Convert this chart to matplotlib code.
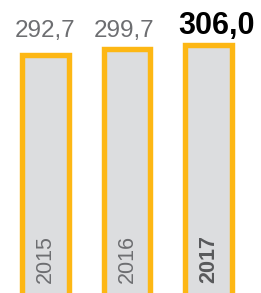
import matplotlib
matplotlib.use("Agg")
import matplotlib.pyplot as plt
from matplotlib.transforms import blended_transform_factory, offset_copy

years = ["2015", "2016", "2017"]
values = [292.7, 299.7, 306.0]
value_labels = ["292,7", "299,7", "306,0"]
highlight = [False, False, True]

fig = plt.figure(figsize=(2.61, 2.93), dpi=100)
ax = fig.add_axes([0, 0, 1, 1])
ax.set_xlim(-0.555, 2.643)
ymin, ymax = -24.4, 365.2
ax.set_ylim(ymin, ymax)
ax.axis("off")

x = list(range(len(years)))
base = ymin - 20
ax.bar(x, [v - base for v in values], bottom=base, width=0.57,
       color="#DCDDDF", edgecolor="#FDB714", linewidth=3.9)

trans = blended_transform_factory(ax.transData, ax.transAxes)
dx_px = [0, -3, 8]
for i, (lab, yr, hl) in enumerate(zip(value_labels, years, highlight)):
    t = offset_copy(trans, fig=fig, x=dx_px[i] * 0.72, y=0, units="points")
    if hl:
        ax.text(x[i], 1 - 34.3 / 293, lab, transform=t, ha="center", va="baseline",
                fontsize=22, fontweight="bold", color="#000000", family="Liberation Sans")
    else:
        ax.text(x[i], 1 - 36.5 / 293, lab, transform=t, ha="center", va="baseline",
                fontsize=17.5, color="#6D6E71", family="Liberation Sans")
    ax.text(x[i], 10 / 293, yr, transform=trans, ha="center", va="bottom", rotation=90,
            fontsize=15.5, fontweight="bold" if hl else "normal",
            color="#58595B" if hl else "#6D6E71", family="Liberation Sans")

fig.savefig("out.png", dpi=100)
